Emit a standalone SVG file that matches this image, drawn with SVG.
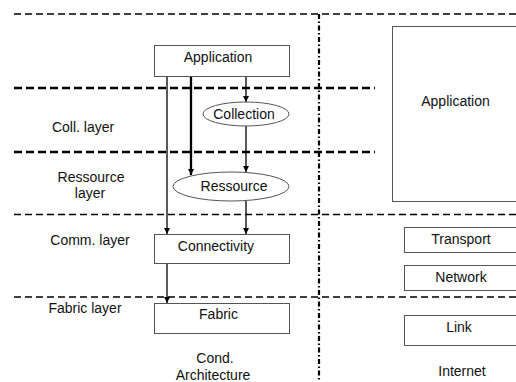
<svg xmlns="http://www.w3.org/2000/svg" width="516" height="382" viewBox="0 0 516 382">
  <defs>
    <style>
      text { font-family: "Liberation Sans", Arial, sans-serif; font-size: 14px; fill: #111; text-anchor: middle; }
      .box { fill: #fff; stroke: #555; stroke-width: 1; }
      .thin { stroke: #000; stroke-width: 1.5; stroke-dasharray: 7 4; fill: none; }
      .thick { stroke: #000; stroke-width: 2.5; stroke-dasharray: 8 4; fill: none; }
      .divider { stroke: #000; stroke-width: 2.2; stroke-dasharray: 5 2.5 1.5 2.5; fill: none; }
      .arrow { stroke: #000; stroke-width: 1.3; fill: none; marker-end: url(#head); }
      .arrow.bold { stroke-width: 2.3; }
    </style>
    <marker id="head" viewBox="0 0 10 10" refX="10" refY="5" markerWidth="6" markerHeight="6" markerUnits="userSpaceOnUse" orient="auto">
      <path d="M0,0 L10,5 L0,10 z" fill="#000"/>
    </marker>
  </defs>
  <rect width="516" height="382" fill="#fff"/>

  <!-- layer separators -->
  <g id="separators">
    <line class="thin" x1="14" y1="14" x2="516" y2="14"/>
    <line class="thick" x1="14" y1="88" x2="375" y2="88"/>
    <line class="thick" x1="14" y1="152" x2="375" y2="152"/>
    <line class="thin" x1="14" y1="214.5" x2="516" y2="214.5"/>
    <line class="thin" x1="14" y1="297" x2="516" y2="297"/>
    <line class="divider" x1="319" y1="14" x2="319" y2="382"/>
  </g>

  <!-- layer labels -->
  <g id="layer-labels">
    <text x="83" y="132">Coll. layer</text>
    <text x="91" y="182">Ressource</text>
    <text x="90" y="198">layer</text>
    <text x="90" y="245">Comm. layer</text>
    <text x="85" y="313">Fabric layer</text>
  </g>

  <!-- connectors -->
  <g id="connectors">
    <line class="arrow" x1="167" y1="77" x2="167" y2="234"/>
    <line class="arrow bold" x1="191" y1="77" x2="191" y2="175"/>
    <line class="arrow" x1="246" y1="77" x2="246" y2="102"/>
    <line class="arrow" x1="246" y1="126" x2="246" y2="172"/>
    <line class="arrow" x1="246" y1="201" x2="246" y2="234"/>
    <line class="arrow" x1="167" y1="264" x2="167" y2="303"/>
  </g>

  <!-- condor stack -->
  <g id="cond-application">
    <rect class="box" x="154.5" y="45.5" width="135" height="31"/>
    <text x="218" y="62">Application</text>
  </g>
  <g id="collection">
    <ellipse class="box" cx="246" cy="114" rx="43" ry="12"/>
    <text x="244" y="119">Collection</text>
  </g>
  <g id="ressource">
    <ellipse class="box" cx="231" cy="186.5" rx="58" ry="14.5"/>
    <text x="234" y="191">Ressource</text>
  </g>
  <g id="connectivity">
    <rect class="box" x="154.5" y="234.5" width="135" height="29"/>
    <text x="216" y="251">Connectivity</text>
  </g>
  <g id="fabric">
    <rect class="box" x="154.5" y="303.5" width="135" height="30"/>
    <text x="218.5" y="319">Fabric</text>
  </g>
  <g id="cond-caption">
    <text x="215" y="363">Cond.</text>
    <text x="213" y="380">Architecture</text>
  </g>

  <!-- internet stack -->
  <g id="inet-application">
    <rect class="box" x="392.5" y="26.5" width="130" height="175"/>
    <text x="455.5" y="106">Application</text>
  </g>
  <g id="transport">
    <rect class="box" x="404.5" y="227.5" width="120" height="25"/>
    <text x="461" y="244">Transport</text>
  </g>
  <g id="network">
    <rect class="box" x="404.5" y="265.5" width="120" height="25"/>
    <text x="461" y="282">Network</text>
  </g>
  <g id="link">
    <rect class="box" x="404.5" y="315.5" width="120" height="30"/>
    <text x="459" y="332">Link</text>
  </g>
  <g id="inet-caption">
    <text x="462" y="376">Internet</text>
  </g>
</svg>
